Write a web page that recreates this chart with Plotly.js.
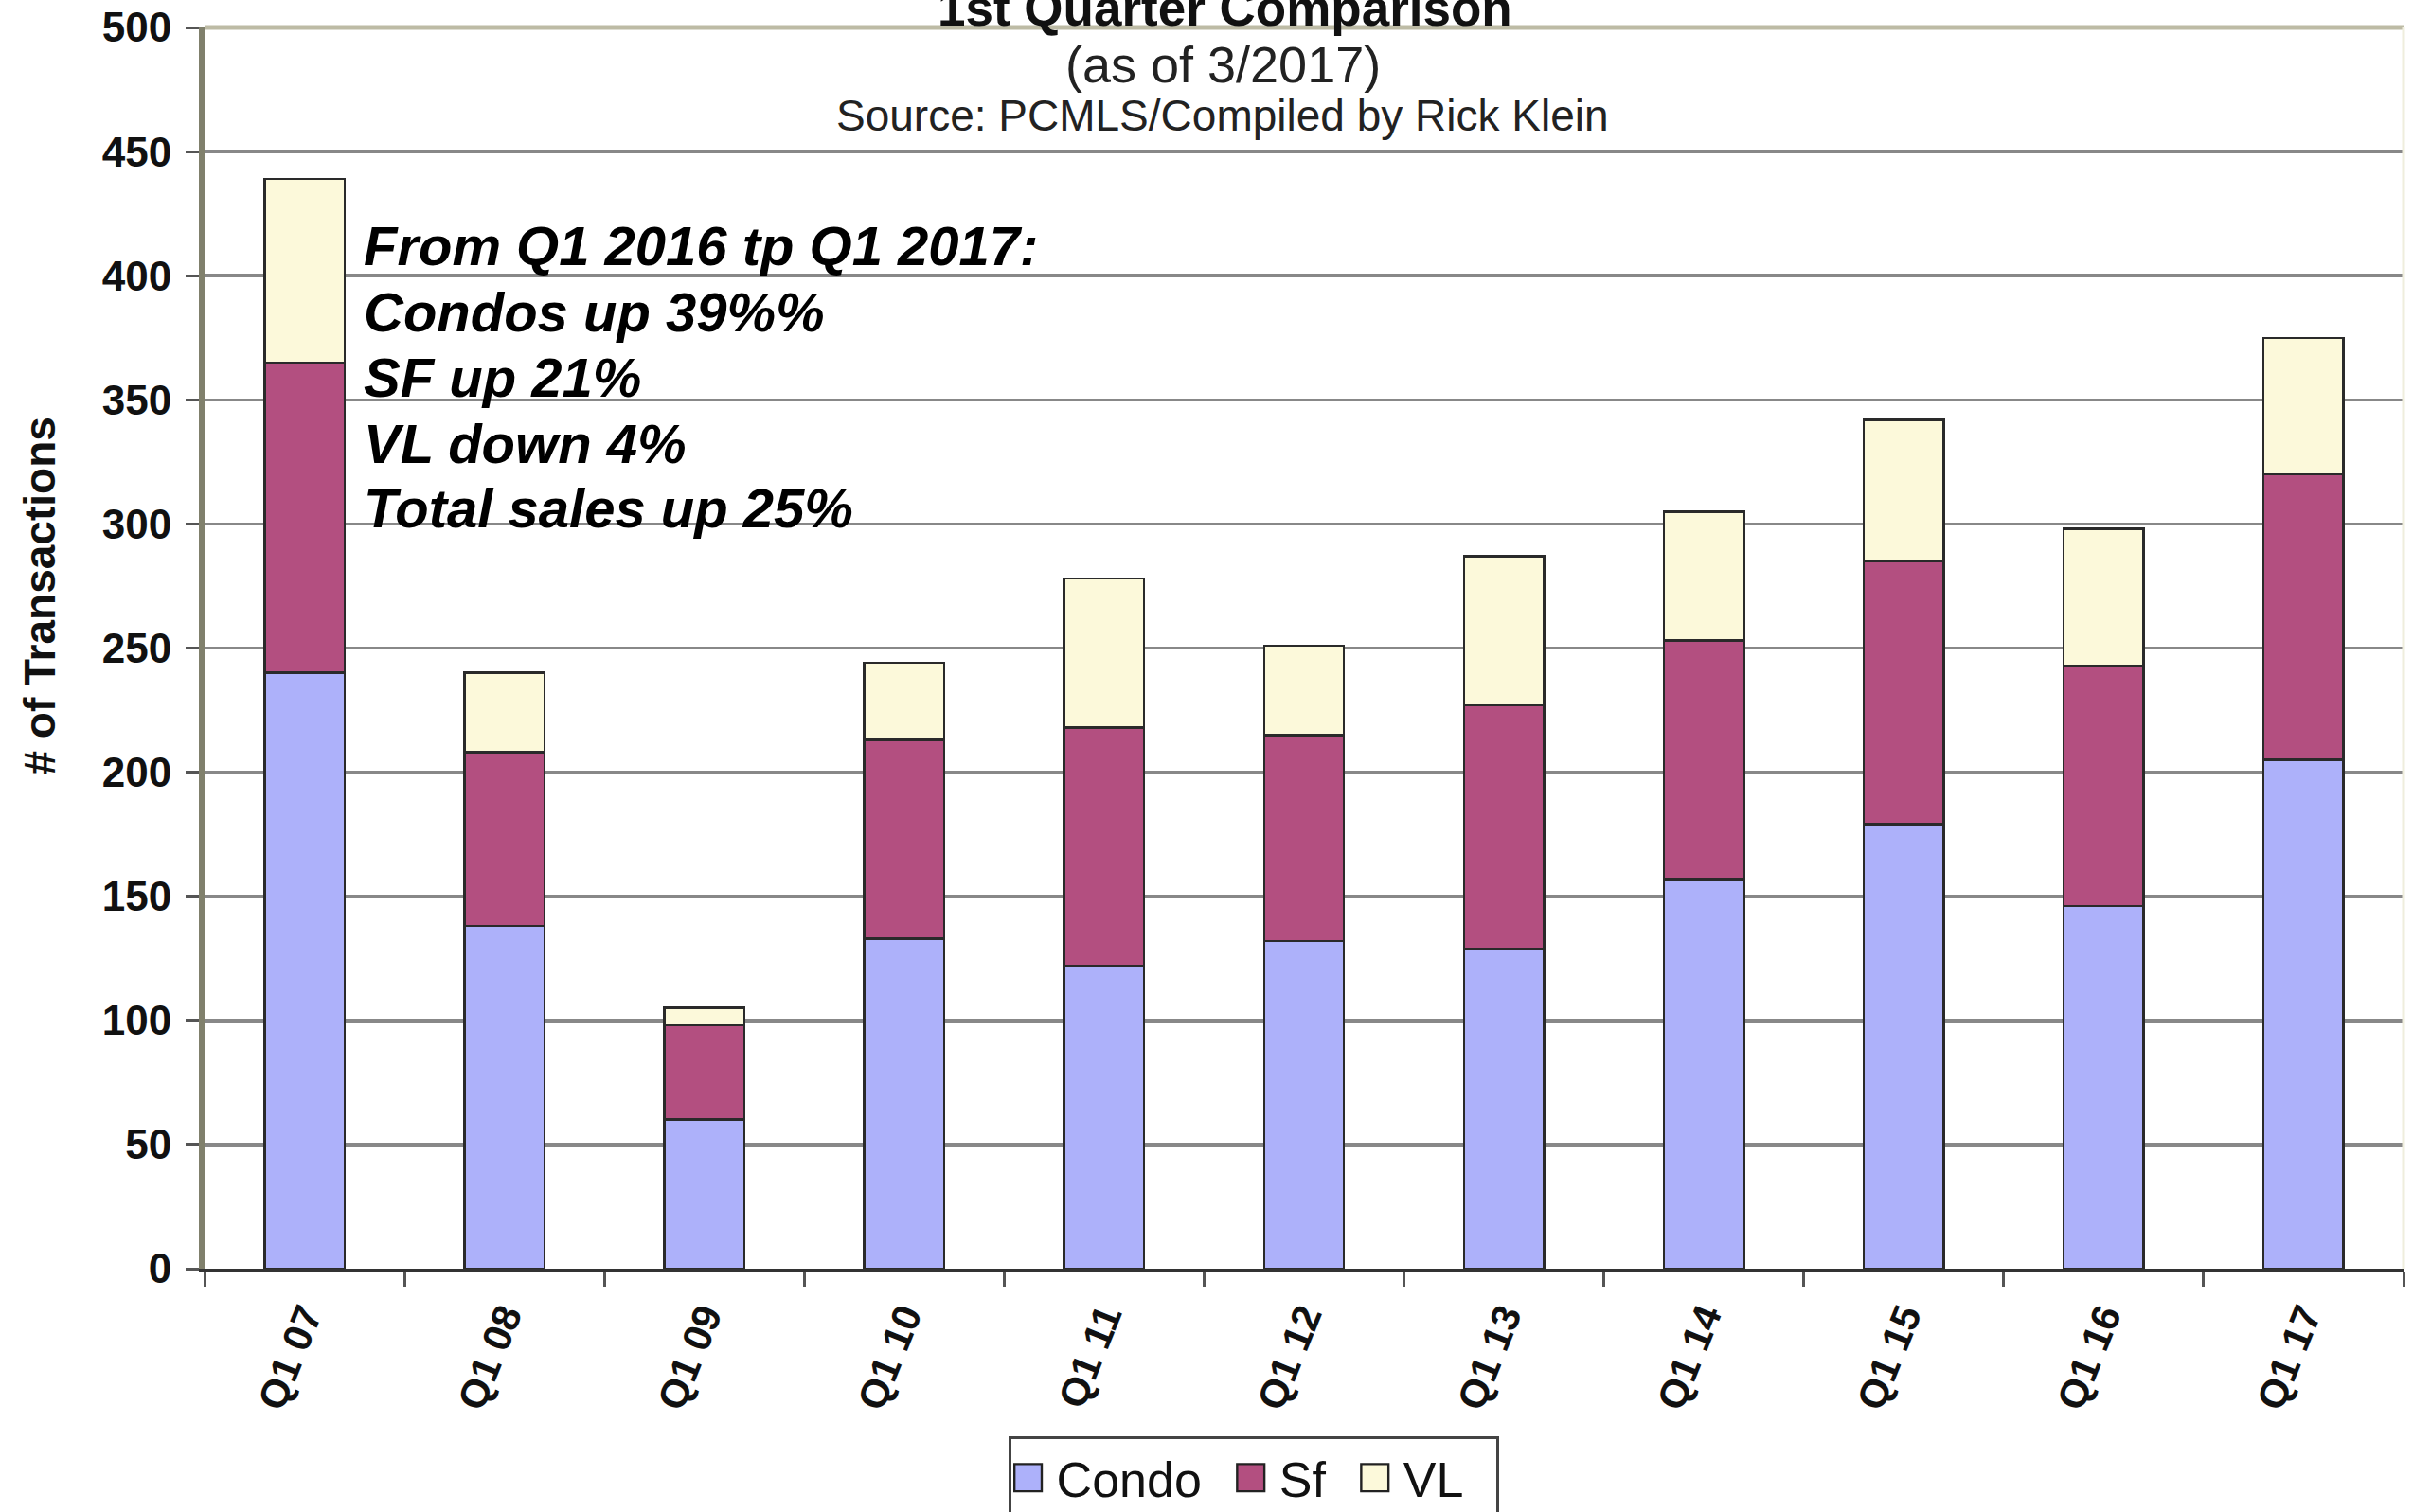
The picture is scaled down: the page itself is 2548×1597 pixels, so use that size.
<!DOCTYPE html>
<html>
<head>
<meta charset="utf-8">
<script src="https://cdn.plot.ly/plotly-3.0.1.min.js"></script>
<style>
html,body{margin:0;padding:0;background:#fff;}
#chart{width:2548px;height:1597px;}
</style>
</head>
<body>
<div id="chart"></div>
<script>
const categories = ["Q1 07","Q1 08","Q1 09","Q1 10","Q1 11","Q1 12","Q1 13","Q1 14","Q1 15","Q1 16","Q1 17"];
const condo = [240, 138, 60, 133, 122, 132, 129, 157, 179, 146, 205];
const sf    = [125,  70, 38,  80,  96,  83,  98,  96, 106,  97, 115];
const vl    = [ 74,  32,  7,  31,  60,  36,  60,  52,  57,  55,  55];
const seriesNames = ["Condo", "Sf", "VL"];
const yTicks = [0, 50, 100, 150, 200, 250, 300, 350, 400, 450, 500];
const titleText = "1st Quarter Comparison";
const subtitle1 = "(as of 3/2017)";
const subtitle2 = "Source: PCMLS/Compiled by Rick Klein";
const yTitle = "# of Transactions";
const noteLines = ["From Q1 2016 tp Q1 2017:", "Condos up 39%%", "SF up 21%", "VL down 4%", "Total sales up 25%"];

const colors = ["#adb1fa", "#b34f80", "#fcf9da"];
const lineCol = "#2a2a2a";

const traces = [condo, sf, vl].map((vals, i) => ({
  type: "bar",
  name: seriesNames[i] + (i < 2 ? "\u00a0\u00a0" : "\u00a0\u00a0"),
  x: categories,
  y: vals,
  marker: {color: colors[i], line: {color: lineCol, width: 2.5}},
  width: 0.4
}));

const F = "Liberation Sans, Arial, sans-serif";

const noteY = [0.8243, 0.7711, 0.7179, 0.6646, 0.6129];
const noteAnns = noteLines.map((s, i) => ({
  text: "<b><i>" + s + "</i></b>", xref: "paper", yref: "paper",
  x: 0.0715, y: noteY[i], xanchor: "left", yanchor: "middle", align: "left",
  showarrow: false, font: {family: F, size: 58, color: "#000"}
}));

const layout = {
  width: 2548, height: 1597,
  margin: {l: 216, r: 10, t: 29, b: 253},
  paper_bgcolor: "#ffffff",
  plot_bgcolor: "#ffffff",
  barmode: "stack",
  showlegend: true,
  legend: {
    orientation: "h",
    x: 0.477, xanchor: "center",
    y: -0.188, yanchor: "bottom",
    bordercolor: "#444444", borderwidth: 3,
    bgcolor: "#ffffff",
    font: {family: F, size: 52, color: "#111"},
    itemwidth: 38,
    traceorder: "normal"
  },
  xaxis: {
    type: "category",
    tickangle: -68,
    tickfont: {family: F, size: 42, weight: "bold", color: "#111"},
    ticks: "outside", ticklen: 16, tickwidth: 3, tickcolor: "#555",
    tickson: "boundaries",
    showline: true, linecolor: "#333", linewidth: 3,
    showgrid: false,
    ticklabelstandoff: 6
  },
  yaxis: {
    range: [0, 500],
    tickvals: yTicks,
    tickfont: {family: F, size: 44, weight: "bold", color: "#111"},
    ticks: "outside", ticklen: 14, tickwidth: 3, tickcolor: "#555",
    showline: true, linecolor: "#80806c", linewidth: 6,
    showgrid: true, gridcolor: "#888888", gridwidth: 3.5,
    zeroline: false,
    ticklabelstandoff: 6
  },
  shapes: [
    {type: "line", xref: "paper", yref: "paper", x0: 0, x1: 1, y0: 1, y1: 1, line: {color: "#bdbba5", width: 5}},
    {type: "line", xref: "paper", yref: "paper", x0: 1, x1: 1, y0: 0, y1: 1, line: {color: "#efeedd", width: 3}}
  ],
  annotations: [
    {text: "<b>" + titleText + "</b>", xref: "paper", yref: "paper", x: 0.464, y: 1.016, xanchor: "center", yanchor: "middle", showarrow: false, font: {family: F, size: 53, color: "#111"}},
    {text: subtitle1, xref: "paper", yref: "paper", x: 0.463, y: 0.970, xanchor: "center", yanchor: "middle", showarrow: false, font: {family: F, size: 54, color: "#222"}},
    {text: subtitle2, xref: "paper", yref: "paper", x: 0.463, y: 0.929, xanchor: "center", yanchor: "middle", showarrow: false, font: {family: F, size: 46, color: "#222"}},
    {text: "<b>" + yTitle + "</b>", xref: "paper", yref: "paper", x: -0.0749, y: 0.542, xanchor: "center", yanchor: "middle", textangle: -90, showarrow: false, font: {family: F, size: 46, color: "#111"}}
  ].concat(noteAnns)
};

Plotly.newPlot("chart", traces, layout, {staticPlot: true}).then(() => {
  document.querySelectorAll("#chart .legendpoints path").forEach(p => {
    p.setAttribute("transform", "translate(18,0) scale(2.4)");
    p.style.strokeWidth = "1px";
    p.style.stroke = "#222";
  });
  const lg = document.querySelector("#chart g.legend");
  if (lg) {
    const t = lg.getAttribute("transform") || "";
    const m = t.match(/translate\(\s*([-\d.]+)[ ,]+([-\d.]+)\s*\)/);
    if (m) lg.setAttribute("transform", "translate(" + m[1] + "," + (parseFloat(m[2]) + 18) + ")");
  }
});
</script>
</body>
</html>
